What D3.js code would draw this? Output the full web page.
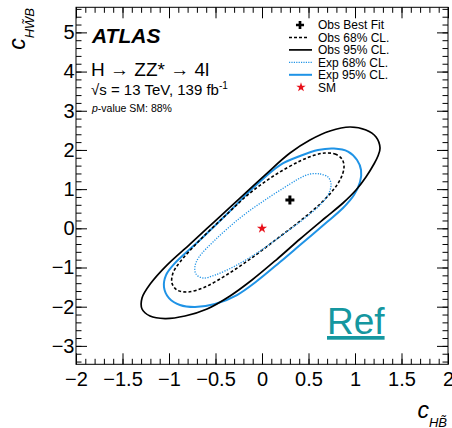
<!DOCTYPE html>
<html>
<head>
<meta charset="utf-8">
<script src="https://cdn.jsdelivr.net/npm/d3@7"></script>
<style>
  body { margin: 0; background: #fff; }
  svg { display: block; font-family: "Liberation Sans", Arial, Helvetica, sans-serif; }
</style>
</head>
<body>
<svg id="chart" width="452" height="428"></svg>
<script>
// ---- data ----
const xTickValues = [-2, -1.5, -1, -0.5, 0, 0.5, 1, 1.5, 2];
const xTickLabels = ["\u22122", "\u22121.5", "\u22121", "\u22120.5", "0", "0.5", "1", "1.5", "2"];
const yTickValues = [-3, -2, -1, 0, 1, 2, 3, 4, 5];
const yTickLabels = ["\u22123", "\u22122", "\u22121", "0", "1", "2", "3", "4", "5"];

const obsBestFit = [0.30, 0.72];
const smPoint = [0, 0];

// Obs 95% CL contour (solid black)
const obs95 = [
  [1.269, 2.049], [1.226, 2.330], [1.118, 2.508], [0.946, 2.585], [0.731, 2.483],
  [0.516, 2.253], [0.301, 1.921], [0.032, 1.360], [-0.237, 0.773], [-0.505, 0.186],
  [-0.774, -0.401], [-1.022, -0.937], [-1.194, -1.396], [-1.290, -1.779], [-1.290, -2.059],
  [-1.204, -2.238], [-1.043, -2.302], [-0.828, -2.238], [-0.591, -2.059], [-0.344, -1.727],
  [-0.108, -1.319], [0.151, -0.809], [0.409, -0.273], [0.677, 0.263], [0.871, 0.646],
  [1.011, 0.977], [1.118, 1.309], [1.204, 1.641], [1.247, 1.845]
];
// Exp 95% CL contour (solid blue)
const exp95 = [
  [0.602, 1.998], [0.774, 2.036], [0.925, 1.960], [1.022, 1.743], [1.065, 1.488],
  [1.054, 1.181], [0.989, 0.850], [0.871, 0.518], [0.699, 0.161], [0.409, -0.426],
  [0.194, -0.860], [-0.054, -1.345], [-0.269, -1.702], [-0.505, -1.932], [-0.720, -2.008],
  [-0.882, -1.957], [-1.000, -1.779], [-1.054, -1.498], [-1.032, -1.192], [-0.946, -0.912],
  [-0.667, -0.299], [-0.344, 0.441], [-0.075, 1.079], [0.194, 1.615], [0.409, 1.845]
];
// Obs 68% CL contour (dashed black)
const obs68 = [
  [0.677, 1.921], [0.785, 1.896], [0.860, 1.768], [0.882, 1.564], [0.849, 1.283],
  [0.774, 1.002], [0.624, 0.620], [0.409, 0.186], [0.172, -0.248], [-0.097, -0.732],
  [-0.366, -1.166], [-0.613, -1.498], [-0.796, -1.625], [-0.914, -1.574], [-0.968, -1.396],
  [-0.957, -1.141], [-0.882, -0.860], [-0.667, -0.299], [-0.398, 0.314], [-0.129, 0.901],
  [0.140, 1.360], [0.409, 1.717], [0.570, 1.870]
];
// Exp 68% CL contour (dotted blue)
const exp68 = [
  [0.516, 1.386], [0.624, 1.386], [0.710, 1.309], [0.742, 1.130], [0.720, 0.901],
  [0.634, 0.620], [0.462, 0.263], [0.247, -0.120], [-0.022, -0.579], [-0.290, -0.962],
  [-0.505, -1.192], [-0.634, -1.268], [-0.710, -1.166], [-0.720, -0.962], [-0.677, -0.732],
  [-0.505, -0.299], [-0.237, 0.263], [0.032, 0.722], [0.301, 1.130], [0.409, 1.283]
];

const legendLabels = ["Obs Best Fit", "Obs 68% CL.", "Obs 95% CL.", "Exp 68% CL.", "Exp 95% CL.", "SM"];

// ---- drawing ----
const svg = d3.select("#chart");
const L = 76, R = 448, T = 7.3, B = 364.3;
const x = d3.scaleLinear().domain([-2, 2]).range([L, R]);
const y = d3.scaleLinear().domain([-3.47, 5.64]).range([B, T]);
const blue = "#1f93e6";

const xMinor = d3.range(-2, 2.0001, 0.1).map(v => +v.toFixed(2));
const yMinor = d3.range(-3.4, 5.6001, 0.2).map(v => +v.toFixed(2));

function styleAxis(g) {
  g.select(".domain").remove();
  g.selectAll("line").attr("stroke", "#000").attr("stroke-width", 1);
  g.selectAll("text").attr("font-size", 20).attr("fill", "#000")
    .attr("font-family", "'Liberation Sans', Arial, Helvetica, sans-serif");
}

// bottom
svg.append("g").attr("transform", `translate(0,${B})`)
  .call(d3.axisBottom(x).tickValues(xMinor).tickSize(-5.5).tickFormat(""))
  .call(styleAxis);
svg.append("g").attr("transform", `translate(0,${B})`)
  .call(d3.axisBottom(x).tickValues(xTickValues).tickSize(-11).tickPadding(8)
    .tickFormat((d, i) => xTickLabels[i]))
  .call(styleAxis);
// top
svg.append("g").attr("transform", `translate(0,${T})`)
  .call(d3.axisTop(x).tickValues(xMinor).tickSize(-5.5).tickFormat(""))
  .call(styleAxis);
svg.append("g").attr("transform", `translate(0,${T})`)
  .call(d3.axisTop(x).tickValues(xTickValues).tickSize(-11).tickFormat(""))
  .call(styleAxis);
// left
svg.append("g").attr("transform", `translate(${L},0)`)
  .call(d3.axisLeft(y).tickValues(yMinor).tickSize(-5.5).tickFormat(""))
  .call(styleAxis);
svg.append("g").attr("transform", `translate(${L},0)`)
  .call(d3.axisLeft(y).tickValues(yTickValues).tickSize(-11).tickPadding(1.5)
    .tickFormat((d, i) => yTickLabels[i]))
  .call(styleAxis);
// right
svg.append("g").attr("transform", `translate(${R},0)`)
  .call(d3.axisRight(y).tickValues(yMinor).tickSize(-5.5).tickFormat(""))
  .call(styleAxis);
svg.append("g").attr("transform", `translate(${R},0)`)
  .call(d3.axisRight(y).tickValues(yTickValues).tickSize(-11).tickFormat(""))
  .call(styleAxis);

// frame
svg.append("rect").attr("x", L).attr("y", T).attr("width", R - L).attr("height", B - T)
  .attr("fill", "none").attr("stroke", "#000").attr("stroke-width", 1);

// contours
const line = d3.line().x(d => x(d[0])).y(d => y(d[1])).curve(d3.curveCatmullRomClosed.alpha(0.5));
svg.append("path").datum(exp95).attr("d", line).attr("fill", "none")
  .attr("stroke", blue).attr("stroke-width", 2);
svg.append("path").datum(obs95).attr("d", line).attr("fill", "none")
  .attr("stroke", "#000").attr("stroke-width", 1.7);
svg.append("path").datum(obs68).attr("d", line).attr("fill", "none")
  .attr("stroke", "#000").attr("stroke-width", 1.6).attr("stroke-dasharray", "3,2.2");
svg.append("path").datum(exp68).attr("d", line).attr("fill", "none")
  .attr("stroke", blue).attr("stroke-width", 1.3).attr("stroke-dasharray", "1.2,1.4");

// best fit plus
svg.append("path").attr("d", d3.symbol().type(d3.symbolCross).size(45)())
  .attr("transform", `translate(${x(obsBestFit[0])},${y(obsBestFit[1])})`)
  .attr("fill", "#000");
// SM star
svg.append("path").attr("d", d3.symbol().type(d3.symbolStar).size(32)())
  .attr("transform", `translate(${x(smPoint[0])},${y(smPoint[1])})`)
  .attr("fill", "#e8101a");

// ATLAS labels
svg.append("text").attr("x", 92).attr("y", 43).attr("font-size", 21)
  .attr("font-weight", "bold").attr("font-style", "italic").text("ATLAS");
svg.append("text").attr("x", 91).attr("y", 76).attr("font-size", 19)
  .text("H \u2192 ZZ* \u2192 4l");
const sq = svg.append("text").attr("x", 91).attr("y", 95).attr("font-size", 15);
sq.append("tspan").text("\u221As = 13 TeV, 139 fb");
sq.append("tspan").attr("font-size", 10).attr("dy", -6).text("-1");
const pv = svg.append("text").attr("x", 92).attr("y", 112).attr("font-size", 10.5);
pv.append("tspan").attr("font-style", "italic").text("p");
pv.append("tspan").text("-value SM: 88%");

// legend
const lx0 = 289, lx1 = 312, ltx = 318;
const rowY = i => 25 + i * 12.45;
svg.append("path").attr("d", d3.symbol().type(d3.symbolCross).size(36)())
  .attr("transform", `translate(300,${rowY(0)})`).attr("fill", "#000");
svg.append("line").attr("x1", lx0).attr("x2", 307).attr("y1", rowY(1)).attr("y2", rowY(1))
  .attr("stroke", "#000").attr("stroke-width", 1.5).attr("stroke-dasharray", "3,2");
svg.append("line").attr("x1", lx0).attr("x2", lx1).attr("y1", rowY(2)).attr("y2", rowY(2))
  .attr("stroke", "#000").attr("stroke-width", 1.7);
svg.append("line").attr("x1", lx0).attr("x2", lx1).attr("y1", rowY(3)).attr("y2", rowY(3))
  .attr("stroke", blue).attr("stroke-width", 1.3).attr("stroke-dasharray", "1.2,1.2");
svg.append("line").attr("x1", lx0).attr("x2", lx1).attr("y1", rowY(4)).attr("y2", rowY(4))
  .attr("stroke", blue).attr("stroke-width", 2);
svg.append("path").attr("d", d3.symbol().type(d3.symbolStar).size(28)())
  .attr("transform", `translate(301,${rowY(5)})`).attr("fill", "#e8101a");
legendLabels.forEach((t, i) => {
  svg.append("text").attr("x", ltx).attr("y", rowY(i) + 4.3).attr("font-size", 12).text(t);
});

// axis titles
const yt = svg.append("text").attr("transform", "translate(25,8) rotate(-90)")
  .attr("text-anchor", "end").attr("font-style", "italic");
yt.append("tspan").attr("font-size", 23).text("c");
yt.append("tspan").attr("font-size", 13).attr("dy", 9).text("HW\u0303B");

const xt = svg.append("text").attr("x", 447).attr("y", 418)
  .attr("text-anchor", "end").attr("font-style", "italic");
xt.append("tspan").attr("font-size", 23).text("c");
xt.append("tspan").attr("font-size", 13).attr("dy", 9).text("HB\u0303");

// Ref watermark
svg.append("text").attr("x", 327).attr("y", 334).attr("font-size", 37)
  .attr("fill", "#1597a0").attr("text-decoration", "underline").text("Ref");
</script>
</body>
</html>
